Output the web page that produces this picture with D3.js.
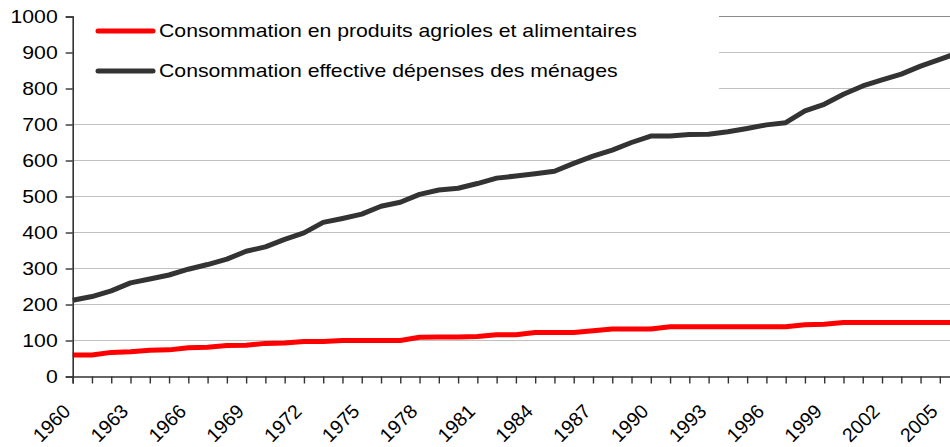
<!DOCTYPE html>
<html>
<head>
<meta charset="utf-8">
<script src="https://cdn.jsdelivr.net/npm/d3@7"></script>
<style>
  body { margin: 0; background: #fff; }
  svg { display: block; }
</style>
</head>
<body>
<div id="plot-area"></div>
<script>
// data
const years = d3.range(1960, 2007);
const agri = [60, 60, 67, 69, 73, 74, 80, 81, 86, 87,
  92, 93, 97, 97, 100, 100, 100, 100, 109, 110,
  110, 111, 116, 116, 122, 122, 122, 127, 132, 132,
  132, 138, 138, 138, 138, 138, 138, 138, 144, 145,
  150, 150, 150, 150, 150, 150, 150];
const menages = [212, 222, 238, 260, 271, 282, 298, 311, 326, 348,
  360, 381, 399, 428, 439, 451, 473, 484, 506, 518,
  523, 536, 551, 557, 563, 570, 592, 612, 629, 650,
  668, 668, 672, 673, 680, 689, 699, 705, 738, 756,
  784, 807, 824, 840, 862, 881, 900];
const yTicks = [0, 100, 200, 300, 400, 500, 600, 700, 800, 900, 1000];
const xLabelYears = d3.range(1960, 2007, 3);
const seriesNames = [
  "Consommation en produits agrioles et alimentaires",
  "Consommation effective dépenses des ménages"
];
const seriesColors = ["#ff0000", "#333333"];

const w = 950;
const h = 447;
const stretch = 1.18; // the picture is a bit wider than tall

const svg = d3.select("#plot-area")
  .append("svg")
  .attr("width", w)
  .attr("height", h);

const x = d3.scaleLinear().domain([1960, 2006]).range([72.7, 959.1]);
const y = d3.scaleLinear().domain([0, 1000]).range([376.5, 16.5]);

// gridlines
svg.append("g")
  .selectAll("line")
  .data(yTicks.filter((d) => d > 0))
  .join("line")
  .attr("x1", x(1960))
  .attr("x2", w)
  .attr("y1", (d) => y(d))
  .attr("y2", (d) => y(d))
  .attr("stroke", (d) => (d === 1000 ? "#8c8c8c" : "#c0c0c0"))
  .attr("stroke-width", 1.2);

// series
const line = d3.line()
  .x((d, i) => x(years[i]))
  .y((d) => y(d));

svg.append("g")
  .selectAll("path")
  .data([agri, menages])
  .join("path")
  .attr("d", line)
  .attr("fill", "none")
  .attr("stroke", (d, i) => seriesColors[i])
  .attr("stroke-width", 5)
  .attr("stroke-linejoin", "round");

// legend box hides the top gridlines
svg.append("rect")
  .attr("x", x(1960) + 1)
  .attr("y", 0)
  .attr("width", 719 - x(1960) - 1)
  .attr("height", 104)
  .attr("fill", "#fff");

const legend = svg.append("g")
  .selectAll("g")
  .data(seriesNames)
  .join("g")
  .attr("transform", (d, i) => `translate(0, ${31 + i * 40})`);
legend.append("line")
  .attr("x1", 98)
  .attr("x2", 153)
  .attr("stroke", (d, i) => seriesColors[i])
  .attr("stroke-width", 5)
  .attr("stroke-linecap", "round");
legend.append("text")
  .attr("transform", `translate(159, 0) scale(${stretch}, 1)`)
  .attr("dy", "0.35em")
  .attr("font-family", "Liberation Sans, Arial, sans-serif")
  .attr("font-size", 18)
  .attr("fill", "#000")
  .text((d) => d);

// y axis
const yAxis = d3.axisLeft(y).tickValues(yTicks).tickSize(7).tickPadding(0).tickFormat((d) => d);
const yg = svg.append("g")
  .attr("transform", `translate(${x(1960)}, 0)`)
  .call(yAxis);
yg.select(".domain").attr("stroke", "#333").attr("stroke-width", 1.6);
yg.selectAll(".tick line").attr("stroke", "#333").attr("stroke-width", 1.4);
yg.selectAll(".tick text")
  .attr("x", null)
  .attr("transform", `translate(-15, 0) scale(${stretch}, 1)`)
  .attr("font-family", "Liberation Sans, Arial, sans-serif")
  .attr("font-size", 18)
  .attr("fill", "#000");

// x axis
const xAxis = d3.axisBottom(x).tickValues(years).tickSize(7).tickFormat("");
const xg = svg.append("g")
  .attr("transform", `translate(0, ${y(0)})`)
  .call(xAxis);
xg.select(".domain").attr("stroke", "#333").attr("stroke-width", 1.6);
xg.selectAll(".tick line").attr("stroke", "#333").attr("stroke-width", 1.4);

svg.append("g")
  .selectAll("text")
  .data(xLabelYears)
  .join("text")
  .attr("transform", (d) => `translate(${x(d) - 1}, ${y(0) + 36}) rotate(-45)`)
  .attr("text-anchor", "end")
  .attr("font-family", "Liberation Sans, Arial, sans-serif")
  .attr("font-size", 19.5)
  .attr("fill", "#000")
  .text((d) => d);
</script>
</body>
</html>
